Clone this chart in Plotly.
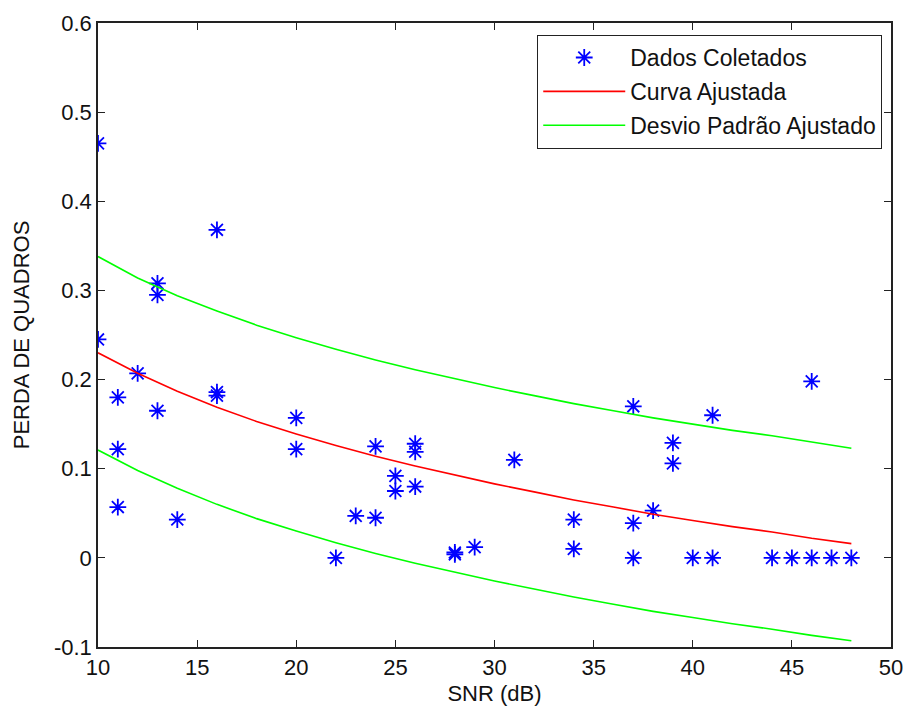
import plotly.graph_objects as go

# Collected data (SNR dB, frame loss)
snr_pts = [10, 10, 11, 11, 11, 12, 13, 13, 13, 14, 16, 16, 16,
           20, 20, 22, 23, 24, 24, 25, 25, 26, 26, 26, 28, 28, 29,
           31, 34, 34, 37, 37, 37, 38, 39, 39, 40, 41, 41,
           44, 45, 46, 46, 47, 48]
loss_pts = [0.465, 0.245, 0.180, 0.122, 0.057, 0.207, 0.308, 0.295, 0.165, 0.043, 0.368, 0.186, 0.182,
            0.157, 0.122, 0.000, 0.047, 0.125, 0.045, 0.092, 0.075, 0.128, 0.119, 0.080, 0.006, 0.004, 0.012,
            0.110, 0.043, 0.010, 0.170, 0.039, 0.000, 0.053, 0.129, 0.106, 0.000, 0.160, 0.000,
            0.000, 0.000, 0.198, 0.000, 0.000, 0.000]

# Fitted curve and fitted std-dev band
snr_fit = [10, 12, 14, 16, 18, 20, 22, 24, 26, 28, 30, 32, 34, 36, 38, 40, 42, 44, 46, 48]
curve_fit = [0.230, 0.207, 0.187, 0.169, 0.153, 0.139, 0.126, 0.114, 0.103, 0.093,
             0.083, 0.074, 0.065, 0.057, 0.049, 0.042, 0.035, 0.029, 0.022, 0.016]
upper_fit = [0.338, 0.314, 0.294, 0.277, 0.261, 0.247, 0.234, 0.222, 0.211, 0.201,
             0.191, 0.182, 0.173, 0.165, 0.157, 0.150, 0.143, 0.137, 0.130, 0.123]
lower_fit = [0.121, 0.098, 0.078, 0.060, 0.044, 0.030, 0.017, 0.005, -0.006, -0.016,
             -0.026, -0.035, -0.044, -0.052, -0.060, -0.067, -0.074, -0.080, -0.087, -0.093]

y_ticks = [-0.1, 0, 0.1, 0.2, 0.3, 0.4, 0.5, 0.6]
y_tick_labels = ["-0.1", "0", "0.1", "0.2", "0.3", "0.4", "0.5", "0.6"]
x_ticks = [10, 15, 20, 25, 30, 35, 40, 45, 50]

FONT = "Liberation Sans, Arial, sans-serif"

fig = go.Figure()
fig.add_trace(go.Scatter(
    x=snr_pts, y=loss_pts, mode="markers", name="Dados Coletados",
    legendgroup="a",
    marker=dict(symbol="asterisk", size=14, color="#0000ff",
                line=dict(color="#0000ff", width=1.8)),
))
fig.add_trace(go.Scatter(
    x=snr_fit, y=curve_fit, mode="lines", name="Curva Ajustada",
    legendgroup="b",
    line=dict(color="#ff0000", width=1.6),
))
fig.add_trace(go.Scatter(
    x=snr_fit, y=upper_fit, mode="lines", name="Desvio Padrão Ajustado",
    legendgroup="c",
    line=dict(color="#00ff00", width=1.6),
))
fig.add_trace(go.Scatter(
    x=snr_fit, y=lower_fit, mode="lines", name="Desvio Padrão Ajustado",
    legendgroup="c", showlegend=False,
    line=dict(color="#00ff00", width=1.6),
))

axis_common = dict(
    showgrid=False, zeroline=False, showline=True, linecolor="#222222", linewidth=1.5,
    mirror="ticks", ticks="inside", ticklen=7, tickwidth=1.2, tickcolor="#222222",
    tickfont=dict(family=FONT, size=22, color="#111111"), automargin=False,
)

fig.update_layout(
    width=904, height=713,
    paper_bgcolor="white", plot_bgcolor="white",
    margin=dict(l=98, r=13, t=23, b=66),
    font=dict(family=FONT, size=22, color="#111111"),
    xaxis=dict(range=[10, 50], tickvals=x_ticks,
               title=dict(text="SNR (dB)", standoff=6,
                          font=dict(family=FONT, size=22)),
               **axis_common),
    yaxis=dict(range=[-0.1, 0.6], tickvals=y_ticks, ticktext=y_tick_labels,
               title=dict(text="PERDA DE QUADROS", standoff=18,
                          font=dict(family=FONT, size=22)),
               **axis_common),
    legend=dict(
        x=0.9887, y=0.981, xanchor="right", yanchor="top",
        bgcolor="white", bordercolor="#222222", borderwidth=1.2,
        font=dict(family=FONT, size=23, color="#111111"),
        itemwidth=82, tracegroupgap=1, traceorder="grouped",
    ),
    showlegend=True,
)

fig.write_html("out.html",
               config={"displayModeBar": False},
               post_script="document.body.style.margin='0';document.body.style.overflow='hidden';")
